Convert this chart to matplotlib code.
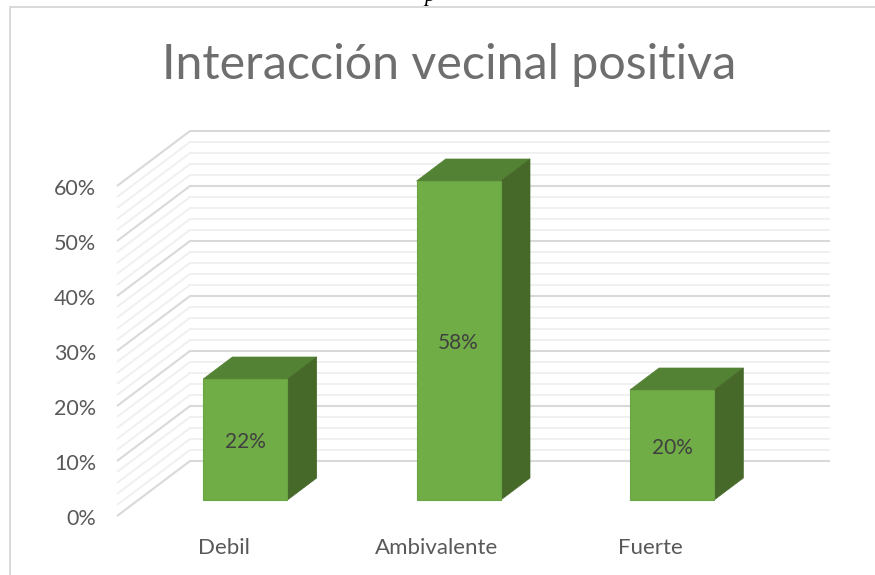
import numpy as np
import matplotlib
matplotlib.use("Agg")
import matplotlib.pyplot as plt
from matplotlib.lines import Line2D
from matplotlib.patches import Polygon
from matplotlib.transforms import ScaledTranslation

# datos del grafico
categorias = ["Debil", "Ambivalente", "Fuerte"]
valores = [22, 58, 20]
etiquetas = ["22%", "58%", "20%"]
ticks_y = [0, 10, 20, 30, 40, 50, 60]
ticks_menores = [v for v in range(0, 61, 2) if v % 10 != 0]
titulo = "Interacción vecinal positiva"

W, H = 875, 575
plt.rcParams["font.family"] = ["Lato", "DejaVu Sans"]

fig = plt.figure(figsize=(W / 100, H / 100), dpi=100)
# el plano frontal del 3D: 0% en y=516, 60% en y=186
ax = fig.add_axes([117 / W, 1 - 516 / H, 640 / W, 330 / H])
ax.set_xlim(-0.5, 2.5)
ax.set_ylim(0, 60)

# profundidad del suelo en unidades de datos
DX = 73 / (640 / 3)
DY = 10
D0, D1 = 16 / 55, 38 / 55
ANCHO = 0.395


def linea_pared(v, color, lw):
    x0, x1 = ax.get_xlim()
    ax.plot([x0, x0 + DX, x1 + DX], [v, v + DY, v + DY], color=color, lw=lw,
            clip_on=False, zorder=1, solid_capstyle="butt", solid_joinstyle="miter")


for v in ticks_menores:
    linea_pared(v, "#f0f0f0", 1.4)
for v in ticks_y:
    linea_pared(v, "#d9d9d9", 1.5)

# barras como prismas
for i, v in enumerate(valores):
    x0 = i - ANCHO / 2 + D0 * DX + 0.002
    x1 = i + ANCHO / 2 + D0 * DX + 0.002
    y0 = D0 * DY
    y1 = D0 * DY + v
    dx = (D1 - D0) * DX
    dy = (D1 - D0) * DY
    ax.add_patch(Polygon([(x0, y1), (x1, y1), (x1 + dx, y1 + dy), (x0 + dx, y1 + dy)],
                         fc="#548235", ec="#548235", lw=0.5, clip_on=False, zorder=3))
    ax.add_patch(Polygon([(x1, y0), (x1 + dx, y0 + dy), (x1 + dx, y1 + dy), (x1, y1)],
                         fc="#46692a", ec="#46692a", lw=0.5, clip_on=False, zorder=3))
    ax.add_patch(Polygon([(x0, y0), (x1, y0), (x1, y1), (x0, y1)],
                         fc="#70ad47", ec="#6aa444", lw=0.8, clip_on=False, zorder=4))
    ax.text((x0 + x1) / 2, (y0 + y1) / 2 - 0.5, etiquetas[i], ha="center", va="center",
            fontsize=15, color="#404040", zorder=5)

ax.set_yticks(ticks_y)
ax.set_yticklabels([f"{v}%" for v in ticks_y])
ax.set_xticks(range(len(categorias)))
ax.set_xticklabels(categorias)
ax.tick_params(axis="y", length=0, pad=15, labelsize=15.5, labelcolor="#595959")
ax.tick_params(axis="x", length=0, pad=16, labelsize=16, labelcolor="#595959")
# las etiquetas de y van 1 px mas abajo
bajar = ScaledTranslation(0, -1 / 100, fig.dpi_scale_trans)
for t in ax.get_yticklabels():
    t.set_transform(t.get_transform() + bajar)
for s in ax.spines.values():
    s.set_visible(False)
ax.patch.set_alpha(0)

fig.text(449 / W, 1 - 65 / H, titulo, ha="center", va="center", fontsize=34.8,
         color="#6e6e6e")

# marco del grafico (recortado por la derecha y abajo)
fig.add_artist(Line2D([10 / W, 10 / W, 1], [0, 1 - 6.5 / H, 1 - 6.5 / H], color="#d9d9d9", lw=1.4))
# resto de la linea de texto del documento que queda arriba
fig.text(430 / W, 1 + 4 / H, "p", ha="center", va="center", fontsize=16, style="italic",
         family="Liberation Serif", color="black")

fig.savefig("out.png", dpi=100)
